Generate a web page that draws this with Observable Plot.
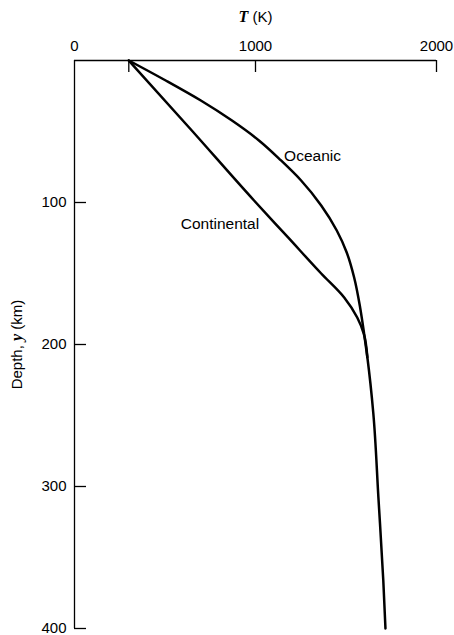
<!DOCTYPE html>
<html>
<head>
<meta charset="utf-8">
<script src="https://cdn.jsdelivr.net/npm/d3@7"></script>
<script src="https://cdn.jsdelivr.net/npm/@observablehq/plot@0.6"></script>
<style>
  html, body { margin: 0; padding: 0; background: #fff; }
</style>
</head>
<body>
<div id="chart"></div>
<script>
// ---- Data ----
const xTickLabels = [0, 1000, 2000];
const xTickMarks = [300, 1000, 2000];
const yTicks = [100, 200, 300, 400];

const oceanicDepth = [0, 14.1, 28.2, 42.3, 56.3, 70.4, 84.5, 102.1, 119.7, 135.2, 152.8, 173.9, 192.3, 209, 248.6, 307.7, 366, 400];
const oceanicT     = [300, 504, 698, 870, 1019, 1141, 1252, 1363, 1449, 1504, 1545, 1578, 1600, 1618, 1651, 1679, 1706, 1718];

const continentalDepth = [0, 49.3, 98.6, 124.6, 150, 166.9, 181, 192.3, 209];
const continentalT     = [300, 648, 992, 1180, 1363, 1490, 1562, 1598, 1618];

const labelNames = ["Oceanic", "Continental"];
const labelT = [1158, 587];
const labelDepth = [67.6, 115.5];

const xTitle = "T (K)";
const yTitle = "Depth, y (km)";

// ---- Build tables ----
const oceanic = oceanicDepth.map((d, i) => ({depth: d, T: oceanicT[i]}));
const continental = continentalDepth.map((d, i) => ({depth: d, T: continentalT[i]}));
const labels = labelNames.map((n, i) => ({name: n, T: labelT[i], depth: labelDepth[i]}));

const W = 454, H = 635, mL = 74, mR = 18, mT = 60, mB = 7;
const frameW = W - mL - mR, frameH = H - mT - mB;
const tickLen = 12;

const chart = Plot.plot({
  width: W,
  height: H,
  marginLeft: mL,
  marginRight: mR,
  marginTop: mT,
  marginBottom: mB,
  x: {domain: [0, 2000]},
  y: {domain: [0, 400], reverse: true},
  style: {fontFamily: "'Liberation Sans', Arial, sans-serif", fontSize: "15px", color: "#000", background: "#fff"},
  marks: [
    Plot.ruleY([0], {stroke: "#000", strokeWidth: 1.3}),
    Plot.ruleX([0], {stroke: "#000", strokeWidth: 1.3}),
    Plot.tickX(xTickMarks, {x: d => d, insetBottom: frameH - tickLen, stroke: "#000", strokeWidth: 1.3}),
    Plot.tickY(yTicks, {y: d => d, insetRight: frameW - tickLen, stroke: "#000", strokeWidth: 1.3}),
    Plot.axisX({anchor: "top", ticks: xTickLabels, tickSize: 0, tickPadding: 10, tickFormat: d => String(d), label: null, fill: "#000", fontSize: 15}),
    Plot.axisY({anchor: "left", ticks: yTicks, tickSize: 0, tickPadding: 8, tickFormat: d => String(d), label: null, fill: "#000", fontSize: 15}),
    Plot.line(oceanic, {x: "T", y: "depth", curve: "monotone-y", stroke: "#000", strokeWidth: 2.5}),
    Plot.line(continental, {x: "T", y: "depth", curve: "monotone-y", stroke: "#000", strokeWidth: 2.5}),
    Plot.text(labels, {x: "T", y: "depth", text: "name", textAnchor: "start", lineAnchor: "middle", fill: "#000", fontSize: 15.5}),
    Plot.text([xTitle], {frameAnchor: "top", dy: -43, text: d => d, textAnchor: "middle", lineAnchor: "middle", fill: "#000", fontSize: 15}),
    Plot.text([yTitle], {frameAnchor: "left", dx: -57, rotate: -90, text: d => d, textAnchor: "middle", lineAnchor: "middle", fill: "#000", fontSize: 15})
  ]
});

document.getElementById("chart").appendChild(chart);

// Italicise the variable letters in the axis titles
function italicise(full, letter) {
  d3.select(chart).selectAll("text").filter(function () { return this.textContent === full; })
    .each(function () {
      const t = d3.select(this);
      const idx = full.indexOf(letter);
      const before = full.slice(0, idx), after = full.slice(idx + letter.length);
      t.text(null);
      if (before) t.append("tspan").text(before);
      t.append("tspan").text(letter)
        .attr("font-family", "'Liberation Serif', 'Times New Roman', serif")
        .attr("font-style", "italic").attr("font-weight", "bold").attr("font-size", 16);
      if (after) t.append("tspan").text(after);
    });
}
italicise(xTitle, "T");
italicise(yTitle, "y");
</script>
</body>
</html>
